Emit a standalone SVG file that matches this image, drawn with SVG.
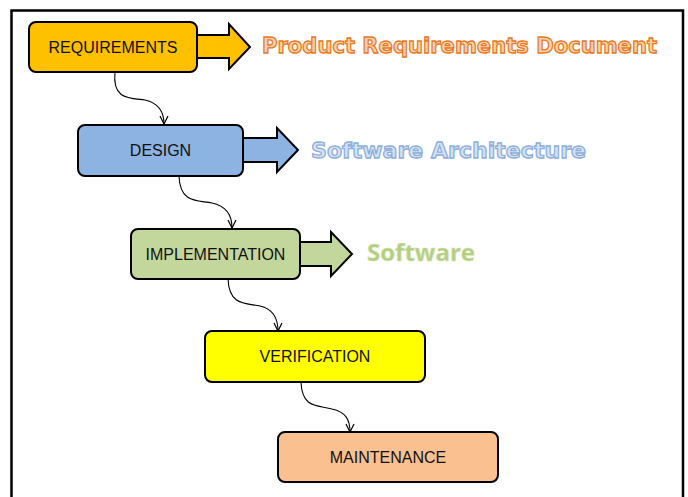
<svg xmlns="http://www.w3.org/2000/svg" width="688" height="497" viewBox="0 0 688 497">
<defs>
<marker id="ah" viewBox="0 0 10 10" refX="9" refY="5" markerWidth="10" markerHeight="10" markerUnits="userSpaceOnUse" orient="auto">
<path d="M1,1 L9,5 L1,9" fill="none" stroke="#000" stroke-width="1.2"/>
</marker>
</defs>
<style>
.box{stroke:#000;stroke-width:2}
.lbl{font-family:"Liberation Sans",Arial,sans-serif;font-size:16px;fill:#111;text-anchor:middle;dominant-baseline:central}
.conn{fill:none;stroke:#000;stroke-width:1.1}
.arr{stroke:#000;stroke-width:2;stroke-linejoin:miter}
.wa{font-family:"DejaVu Sans",Verdana,sans-serif;font-weight:bold;font-size:22px;stroke-width:1.3}
</style>
<rect x="0" y="0" width="688" height="497" fill="#fff"/>
<path d="M11.5,497 V10.5 H683 V497" fill="none" stroke="#000" stroke-width="2.5"/>

<g id="connectors">
<path class="conn" d="M115,72 C112,100 130,98 145,100 C158,103 164,112 164,124" marker-end="url(#ah)"/>
<path class="conn" d="M179,176 C180,204 198,200 212,203 C226,206 232,215 232,228" marker-end="url(#ah)"/>
<path class="conn" d="M228,279 C229,306 246,303 260,306 C273,309 278,318 278,331" marker-end="url(#ah)"/>
<path class="conn" d="M301,382 C302,409 318,405 332,409 C346,412 350,420 350,432" marker-end="url(#ah)"/>
</g>

<g id="requirements">
<path class="arr" fill="#FFC000" d="M197,35 H229 V24 L250,47 L229,69 V58 H197 Z"/>
<rect class="box" x="29" y="22" width="168" height="50" rx="7" fill="#FFC000"/>
<text class="lbl" x="113" y="47">REQUIREMENTS</text>
<text class="wa" x="262" y="53" textLength="395" lengthAdjust="spacingAndGlyphs" fill="#FCD2AE" stroke="#E9791E">Product Requirements Document</text>
</g>

<g id="design">
<path class="arr" fill="#8DB3E2" d="M243,138 H277 V128 L298,150 L277,172 V162 H243 Z"/>
<rect class="box" x="78" y="125" width="165" height="51" rx="7" fill="#8DB3E2"/>
<text class="lbl" x="160.5" y="150.5">DESIGN</text>
<text class="wa" x="311" y="158" textLength="275" lengthAdjust="spacingAndGlyphs" fill="#D5E3F5" stroke="#8EAEDC">Software Architecture</text>
</g>

<g id="implementation">
<path class="arr" fill="#C3D69B" d="M300,242 H331 V232 L352,254 L331,276 V266 H300 Z"/>
<rect class="box" x="131" y="229" width="169" height="50" rx="7" fill="#C3D69B"/>
<text class="lbl" x="215.5" y="254">IMPLEMENTATION</text>
<text x="367" y="261" textLength="108" lengthAdjust="spacingAndGlyphs" font-family="'Open Sans',sans-serif" font-weight="bold" font-size="23" fill="#B3CE7E" stroke="#D2E3B0" stroke-width="0.6">Software</text>
</g>

<g id="verification">
<rect class="box" x="205" y="331" width="220" height="51" rx="7" fill="#FFFF00"/>
<text class="lbl" x="315" y="356.5">VERIFICATION</text>
</g>

<g id="maintenance">
<rect class="box" x="278" y="432" width="220" height="50" rx="7" fill="#FAC090"/>
<text class="lbl" x="388" y="457">MAINTENANCE</text>
</g>
</svg>
